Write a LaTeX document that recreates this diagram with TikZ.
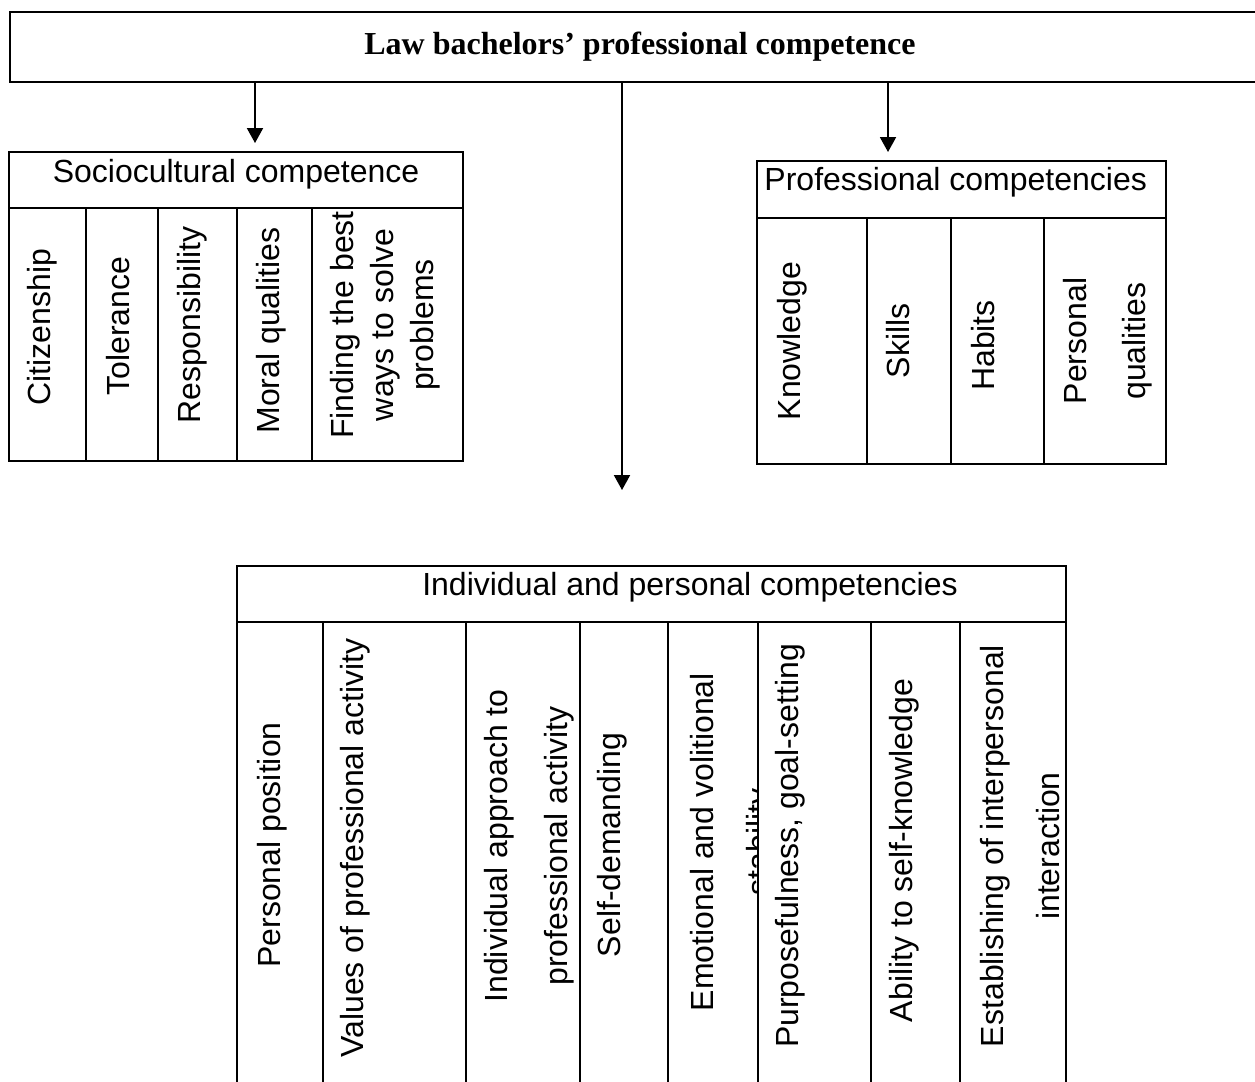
\documentclass[tikz,border=0pt]{standalone}
\usepackage{fontspec}
\setmainfont{Liberation Sans}
\newfontfamily\titelschrift{Liberation Serif}
\usepackage{tikz}
\usetikzlibrary{arrows.meta}

\tikzset{
  rahmen/.style={line width=0.65pt},
  pfeil/.style={line width=0.7pt, -{Triangle[width=7pt,length=6.5pt]}},
  kopf/.style={inner sep=0pt, font=\fontsize{14}{17.5}\selectfont},
  spalte/.style={rotate=90, inner sep=0pt, align=center, font=\fontsize{14}{17.5}\selectfont}
}

\begin{document}
\begin{tikzpicture}[x=0.4375pt, y=-0.4375pt]
    \useasboundingbox (0,0) rectangle (1255,1081);
    \clip (0,0) rectangle (1255,1081);
    \fill[white] (0,0) rectangle (1255,1081);  %Hintergrund
    \node[draw, line width=0.9pt, minimum width=551.25pt, minimum height=30.6pt,
      font=\titelschrift\bfseries\fontsize{14}{17.5}\selectfont] (law) at (640,47)
      {Law bachelors’ professional competence};  %Hauptkasten
    \coordinate (zsozio) at (255,143);  %Pfeilspitzen
    \coordinate (zindiv) at (622,490);
    \coordinate (zprof) at (888,152);
    \draw[pfeil] (law.south -| zsozio) -- (zsozio);
    \draw[pfeil] (law.south -| zindiv) -- (zindiv);
    \draw[pfeil] (law.south -| zprof) -- (zprof);

    \draw[rahmen] (9,152) rectangle (463,461);  %soziokulturell
    \draw[rahmen] (9,208) -- (463,208);
    \foreach \x in {86,158,237,312}
      \draw[rahmen] (\x,208) -- (\x,461);
    \node[kopf, anchor=base] (sozio) at (236,182) {Sociocultural competence};
    \foreach \name/\x/\y/\beschr in
    {
      citizen/42/327/Citizenship,
      toleranz/118/326/Tolerance,
      verantw/192/325/Responsibility,
      moral/271/326/Moral qualities
    }
      \node[spalte] (\name) at (\x,\y) {\beschr};
    \node[spalte] (loesung) at (385,325) {Finding the best\\ways to solve\\problems};

    \draw[rahmen] (757,161) rectangle (1166,464);  %fachlich
    \draw[rahmen] (757,218) -- (1166,218);
    \foreach \x in {867,951,1044}
      \draw[rahmen] (\x,218) -- (\x,464);
    \node[kopf, anchor=base west] (prof) at (764,190) {Professional competencies};
    \foreach \name/\x/\y/\beschr in
    {
      wissen/792/341/Knowledge,
      skills/898/341/Skills,
      habits/983/341/Habits
    }
      \node[spalte] (\name) at (\x,\y) {\beschr};
    \node[spalte] (eigensch) at (1108,341) {Personal\\[8.3pt]qualities};

    \draw[rahmen] (237,566) rectangle (1066,1110);  %individuell
    \draw[rahmen] (237,622) -- (1066,622);
    \foreach \x in {323,466,580,668,758,871,960}
      \draw[rahmen] (\x,622) -- (\x,1110);
    \node[kopf, anchor=base] (indiv) at (690,595) {Individual and personal competencies};
    \foreach \name/\x/\y/\beschr in
    {
      position/272/845/Personal position,
      werte/355/848/Values of professional activity,
      selbst/612/845/Self-demanding,
      zweck/790/846/{Purposefulness, goal-setting},
      selbsterk/904/846/Ability to self-knowledge
    }
      \node[spalte] (\name) at (\x,\y) {\beschr};
    \node[spalte] (ansatz) at (529,846) {Individual approach to\\[8.75pt]professional activity};
    \node[spalte] (interakt) at (1020,846) {Establishing of interpersonal\\[7pt]interaction};
    \begin{scope}
      \clip (668,622) rectangle (758,1110);  %zweite Zeile abgeschnitten
      \node[spalte] (emotion) at (733,842) {Emotional and volitional\\[7pt]stability};
    \end{scope}
\end{tikzpicture}
\end{document}
